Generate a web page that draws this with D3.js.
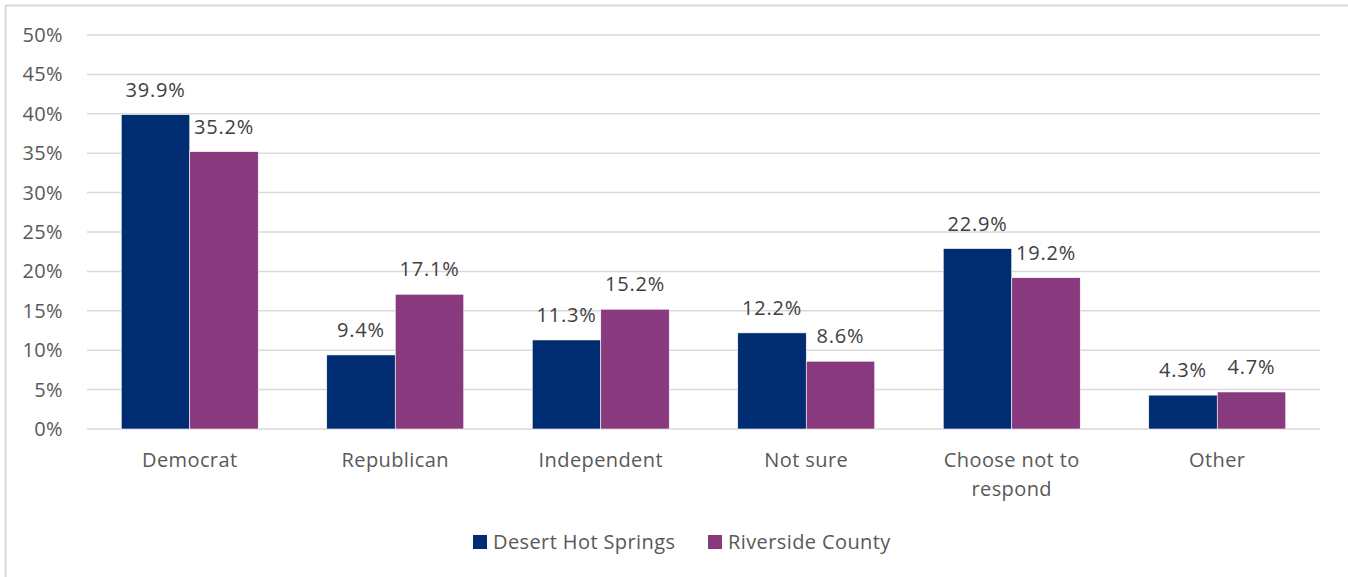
<!DOCTYPE html>
<html>
<head>
<meta charset="utf-8">
<script src="https://cdn.jsdelivr.net/npm/d3@7"></script>
<style>
  html, body { margin: 0; padding: 0; background: #fff; }
  svg { display: block; font-family: "Open Sans", "Noto Sans", sans-serif; }
</style>
</head>
<body>
<svg id="chart" width="1348" height="577"></svg>
<script>
// Party affiliation: Desert Hot Springs vs. Riverside County
const categories = ["Democrat", "Republican", "Independent", "Not sure", "Choose not to respond", "Other"];
const seriesNames = ["Desert Hot Springs", "Riverside County"];
const desertHotSprings = [39.9, 9.4, 11.3, 12.2, 22.9, 4.3];
const riversideCounty = [35.2, 17.1, 15.2, 8.6, 19.2, 4.7];
const yTicks = [0, 5, 10, 15, 20, 25, 30, 35, 40, 45, 50];
const colors = ["#002C71", "#893A7F"];

const svg = d3.select("#chart");
const W = 1348, H = 577;
const plot = { left: 87, right: 1320, top: 35, bottom: 429 };

// Outer frame (top and left edges visible)
svg.append("line").attr("x1", 5).attr("x2", W).attr("y1", 5.5).attr("y2", 5.5)
  .attr("stroke", "#d9d9d9").attr("stroke-width", 2);
svg.append("line").attr("x1", 5.5).attr("x2", 5.5).attr("y1", 5).attr("y2", H)
  .attr("stroke", "#d9d9d9").attr("stroke-width", 2);

const x = d3.scaleBand().domain(categories).range([plot.left, plot.right]).paddingInner(1/3).paddingOuter(1/6);
const xs = d3.scaleBand().domain(seriesNames).range([0, x.bandwidth()]);
const y = d3.scaleLinear().domain([0, 50]).range([plot.bottom, plot.top]);

// Gridlines
svg.append("g").selectAll("line").data(yTicks).join("line")
  .attr("x1", plot.left).attr("x2", plot.right)
  .attr("y1", d => y(d)).attr("y2", d => y(d))
  .attr("stroke", "#d9d9d9").attr("stroke-width", 1.5);

// Y axis labels
const yAxis = d3.axisLeft(y).tickValues(yTicks).tickFormat(d => d + "%").tickSize(0).tickPadding(0);
const yg = svg.append("g").attr("transform", `translate(${63},0)`).call(yAxis);
yg.select(".domain").remove();
yg.selectAll("text").attr("fill", "#595959")
  .style("font-size", "20px").style("letter-spacing", "0.4px")
  .style("font-family", '"Open Sans", sans-serif');

// Bars and value labels
const series = [desertHotSprings, riversideCounty];
series.forEach((vals, si) => {
  const g = svg.append("g");
  g.selectAll("rect").data(vals).join("rect")
    .attr("x", (d, i) => x(categories[i]) + xs(seriesNames[si]))
    .attr("width", xs.bandwidth())
    .attr("y", d => y(d))
    .attr("height", d => y(0) - y(d))
    .attr("fill", colors[si])
    .attr("stroke", "#fff").attr("stroke-width", 0.6);
  g.selectAll("text").data(vals).join("text")
    .attr("x", (d, i) => x(categories[i]) + xs(seriesNames[si]) + xs.bandwidth() / 2)
    .attr("y", d => y(d) - 18)
    .attr("text-anchor", "middle")
    .attr("fill", "#404040")
    .style("font-size", "20px")
    .style("letter-spacing", "0.8px")
    .text(d => d.toFixed(1) + "%");
});

// Category labels (wrapped to fit the band)
const catLines = { "Choose not to respond": ["Choose not to", "respond"] };
categories.forEach(c => {
  const lines = catLines[c] || [c];
  const cx = x(c) + x.bandwidth() / 2;
  const t = svg.append("text")
    .attr("x", cx)
    .attr("y", 467)
    .attr("text-anchor", "middle")
    .attr("fill", "#595959")
    .style("font-size", "20px")
    .style("letter-spacing", "0.4px");
  lines.forEach((ln, i) => {
    t.append("tspan").attr("x", cx).attr("dy", i === 0 ? 0 : 29).text(ln);
  });
});

// Legend
const legendItems = [
  { name: seriesNames[0], color: colors[0], x: 473 },
  { name: seriesNames[1], color: colors[1], x: 708 }
];
const lg = svg.append("g");
legendItems.forEach(it => {
  lg.append("rect").attr("x", it.x).attr("y", 535).attr("width", 14).attr("height", 14).attr("fill", it.color);
  lg.append("text").attr("x", it.x + 20).attr("y", 549)
    .attr("fill", "#595959")
    .style("font-size", "20px")
    .style("letter-spacing", "0.4px")
    .text(it.name);
});
</script>
</body>
</html>
